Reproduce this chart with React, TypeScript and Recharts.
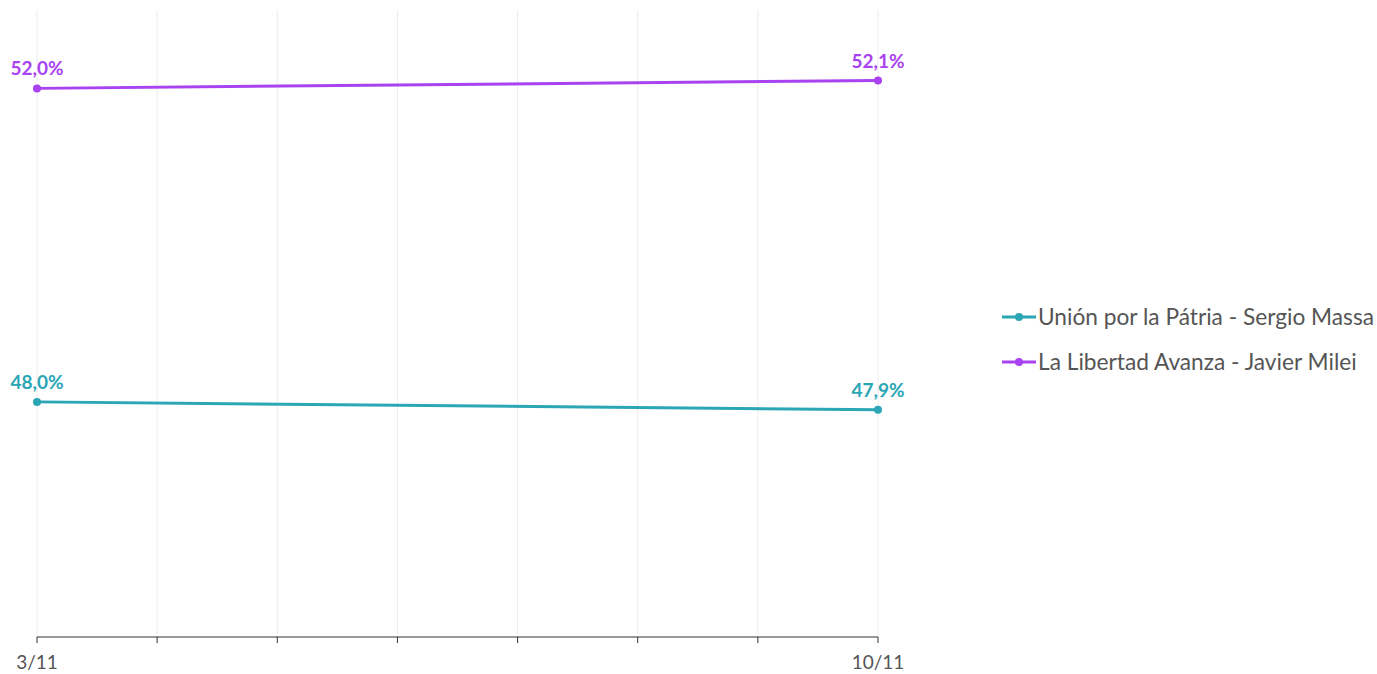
import { LineChart, Line, XAxis, YAxis, CartesianGrid, LabelList } from "recharts";

const dates = ["3/11", "4/11", "5/11", "6/11", "7/11", "8/11", "9/11", "10/11"];
const massa = [48.0, null, null, null, null, null, null, 47.9];
const milei = [52.0, null, null, null, null, null, null, 52.1];
const labeledTicks = ["3/11", "10/11"];

const TEAL = "#2ba6b5";
const PURPLE = "#a942f0";
const FONT = "Lato, 'Open Sans', sans-serif";

const data = dates.map((d, i) => ({ date: d, massa: massa[i], milei: milei[i] }));

const fmt = (v: any) => (v == null ? "" : `${Number(v).toFixed(1).replace(".", ",")}%`);

function LegendBox() {
  const items = [
    { name: "Unión por la Pátria - Sergio Massa", color: TEAL },
    { name: "La Libertad Avanza - Javier Milei", color: PURPLE },
  ];
  return (
    <div style={{ position: "absolute", left: 1001, top: 294, fontFamily: FONT }}>
      {items.map((it) => (
        <div key={it.name} style={{ display: "flex", alignItems: "center", height: 45 }}>
          <svg width={36} height={12} style={{ marginRight: 1 }}>
            <line x1={1} y1={6} x2={35} y2={6} stroke={it.color} strokeWidth={3} />
            <circle cx={18} cy={6} r={4} fill={it.color} />
          </svg>
          <span style={{ fontSize: 22.7, color: "#555", whiteSpace: "nowrap" }}>{it.name}</span>
        </div>
      ))}
    </div>
  );
}

export default function App() {
  return (
    <div style={{ position: "absolute", left: 0, top: 0, width: 1377, height: 674 }}>
      <LineChart
        width={1377}
        height={674}
        data={data}
        margin={{ top: 10, right: 499, bottom: 7, left: 37 }}
      >
        <CartesianGrid vertical={true} horizontal={false} stroke="#ececec" />
        <XAxis
          dataKey="date"
          padding={{ left: 0, right: 0 }}
          interval={0}
          tickFormatter={(v) => (labeledTicks.includes(v) ? v : "")}
          tick={{ fontSize: 19, fill: "#555", fontFamily: FONT, dy: 11 }}
          stroke="#333"
          tickLine={{ stroke: "#333" }}
          tickSize={6}
        />
        <YAxis hide domain={[45, 53]} />
        <Line
          type="linear"
          dataKey="massa"
          name="Unión por la Pátria - Sergio Massa"
          stroke={TEAL}
          strokeWidth={3}
          dot={{ r: 4, fill: TEAL, stroke: TEAL, strokeWidth: 0 }}
          connectNulls
          isAnimationActive={false}
        >
          <LabelList
            dataKey="massa"
            position="top"
            offset={13}
            formatter={fmt}
            style={{ fontSize: 19, fontWeight: 700, fill: TEAL, fontFamily: FONT }}
          />
        </Line>
        <Line
          type="linear"
          dataKey="milei"
          name="La Libertad Avanza - Javier Milei"
          stroke={PURPLE}
          strokeWidth={3}
          dot={{ r: 4, fill: PURPLE, stroke: PURPLE, strokeWidth: 0 }}
          connectNulls
          isAnimationActive={false}
        >
          <LabelList
            dataKey="milei"
            position="top"
            offset={13}
            formatter={fmt}
            style={{ fontSize: 19, fontWeight: 700, fill: PURPLE, fontFamily: FONT }}
          />
        </Line>
      </LineChart>
      <LegendBox />
    </div>
  );
}
